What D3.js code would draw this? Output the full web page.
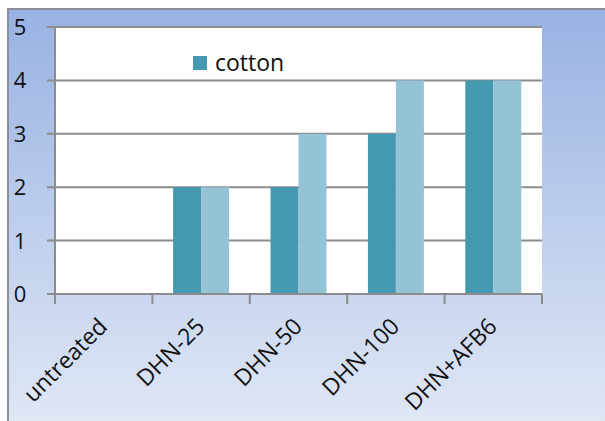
<!DOCTYPE html>
<html>
<head>
<meta charset="utf-8">
<script src="https://cdn.jsdelivr.net/npm/d3@7"></script>
<style>
  body { margin: 0; background: #fff; }
  svg { display: block; font-family: "Open Sans", Lato, sans-serif; }
</style>
</head>
<body>
<div id="chart"></div>
<script>
// data
const categories = ["untreated", "DHN-25", "DHN-50", "DHN-100", "DHN+AFB6"];
const cottonValues = [0, 2, 2, 3, 4];
const secondValues = [0, 2, 3, 4, 4];
const yTicks = [0, 1, 2, 3, 4, 5];
const legendLabel = "cotton";

const W = 605, H = 421;
const plot = { left: 55, right: 542, top: 27, bottom: 294 };

const svg = d3.select("#chart").append("svg")
    .attr("width", W)
    .attr("height", H);

// background gradient
const defs = svg.append("defs");
const grad = defs.append("linearGradient")
    .attr("id", "bg").attr("x1", 0).attr("y1", 0).attr("x2", 0).attr("y2", 1);
grad.append("stop").attr("offset", "0%").attr("stop-color", "#98b2e3");
grad.append("stop").attr("offset", "100%").attr("stop-color", "#e1e8f5");

svg.append("rect")
    .attr("x", 8).attr("y", 9)
    .attr("width", W).attr("height", H)
    .attr("fill", "url(#bg)")
    .attr("stroke", "#8a8f9a")
    .attr("stroke-width", 2);

// plot area
svg.append("rect")
    .attr("x", plot.left).attr("y", plot.top)
    .attr("width", plot.right - plot.left)
    .attr("height", plot.bottom - plot.top)
    .attr("fill", "#fff");

const x = d3.scaleBand()
    .domain(categories)
    .range([plot.left, plot.right])
    .paddingInner(0).paddingOuter(0);

const xSeries = d3.scaleBand()
    .domain(["cotton", "second"])
    .range([0, x.bandwidth()])
    .paddingInner(0)
    .paddingOuter(0.74);

const y = d3.scaleLinear()
    .domain([0, 5])
    .range([plot.bottom, plot.top]);

// gridlines
svg.append("g")
    .selectAll("line")
    .data(yTicks)
    .join("line")
    .attr("x1", plot.left - 8)
    .attr("x2", plot.right)
    .attr("y1", d => y(d))
    .attr("y2", d => y(d))
    .attr("stroke", "#8c8c8c")
    .attr("stroke-width", 2);

// bars
const rows = categories.map((c, i) => ({ cat: c, cotton: cottonValues[i], second: secondValues[i] }));
const colors = { cotton: "#4499b0", second: "#93c3d5" };

const groups = svg.append("g")
    .selectAll("g")
    .data(rows)
    .join("g")
    .attr("transform", d => `translate(${x(d.cat)},0)`);

groups.selectAll("rect")
    .data(d => ["cotton", "second"].map(k => ({ key: k, value: d[k] })))
    .join("rect")
    .attr("x", d => xSeries(d.key))
    .attr("width", xSeries.bandwidth())
    .attr("y", d => y(d.value))
    .attr("height", d => y(0) - y(d.value))
    .attr("fill", d => colors[d.key]);

// axes lines
svg.append("line")
    .attr("x1", plot.left).attr("x2", plot.left)
    .attr("y1", plot.top).attr("y2", plot.bottom + 10)
    .attr("stroke", "#8c8c8c").attr("stroke-width", 2);

svg.append("line")
    .attr("x1", plot.left).attr("x2", plot.right)
    .attr("y1", plot.bottom).attr("y2", plot.bottom)
    .attr("stroke", "#8c8c8c").attr("stroke-width", 2);

// x tick marks at category boundaries
const bounds = categories.map(c => x(c)).concat([plot.right]);
svg.append("g")
    .selectAll("line")
    .data(bounds)
    .join("line")
    .attr("x1", d => d).attr("x2", d => d)
    .attr("y1", plot.bottom).attr("y2", plot.bottom + 10)
    .attr("stroke", "#8c8c8c").attr("stroke-width", 2);

// y labels
svg.append("g")
    .selectAll("text")
    .data(yTicks)
    .join("text")
    .attr("x", 20)
    .attr("y", d => y(d))
    .attr("dy", "0.36em")
    .attr("text-anchor", "middle")
    .style("font-size", "22px")
    .attr("fill", "#111")
    .text(d => d);

// x labels rotated
svg.append("g")
    .selectAll("text")
    .data(categories)
    .join("text")
    .attr("transform", d => `translate(${x(d) + x.bandwidth() / 2 + 5},${plot.bottom + 34}) rotate(-45)`)
    .attr("text-anchor", "end")
    .style("font-size", "23px")
    .attr("fill", "#111")
    .text(d => d);

// legend
svg.append("rect")
    .attr("x", 193).attr("y", 56)
    .attr("width", 14).attr("height", 14)
    .attr("fill", colors.cotton);

svg.append("text")
    .attr("x", 215).attr("y", 71)
    .style("font-size", "23px")
    .attr("fill", "#111")
    .text(legendLabel);
</script>
</body>
</html>
